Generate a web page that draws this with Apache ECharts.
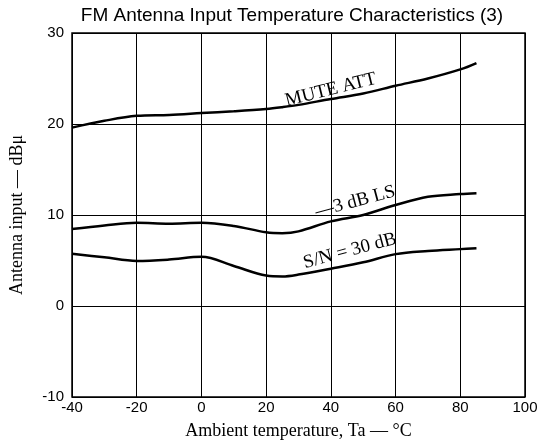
<!DOCTYPE html>
<html>
<head>
<meta charset="utf-8">
<script src="https://cdn.jsdelivr.net/npm/echarts@6/dist/echarts.min.js"></script>
<style>
  html, body { margin: 0; padding: 0; background: #fff; }
  #chart { width: 544px; height: 445px; }
</style>
</head>
<body>
<div id="chart"></div>
<script>
// ambient temperature (°C) sample points
const temps = [-40, -30, -20, -10, 0, 10, 20, 25, 30, 40, 50, 60, 70, 80, 85]

// antenna input, dBμ
const muteAtt = [19.6, 20.35, 20.9, 21.0, 21.2, 21.4, 21.65, 21.85, 22.1, 22.75, 23.35, 24.2, 25.0, 26.0, 26.7]
const ls3dB = [8.45, 8.85, 9.15, 9.05, 9.15, 8.8, 8.1, 8.0, 8.2, 9.3, 10.0, 11.1, 12.0, 12.3, 12.4]
const sn30dB = [5.75, 5.35, 4.95, 5.1, 5.4, 4.4, 3.35, 3.25, 3.45, 4.1, 4.8, 5.7, 6.05, 6.25, 6.35]

const xTicks = [-40, -20, 0, 20, 40, 60, 80, 100]
const yTicks = [-10, 0, 10, 20, 30]

// curve captions, anchored in data coordinates
const captions = [
  { text: 'MUTE ATT', x: 40.0, y: 23.75, angle: 14 },
  { text: '—3 dB LS', x: 47.5, y: 11.45, angle: 15 },
  { text: 'S/N = 30 dB', x: 45.9, y: 6.05, angle: 15 }
]

const serif = '"Liberation Serif", "DejaVu Serif", serif'
const sans = '"Liberation Sans", Arial, sans-serif'

function pairs(ys) {
  return temps.map((t, i) => [t, ys[i]])
}

function curve(name, ys) {
  return {
    name,
    type: 'line',
    smooth: 0.35,
    symbol: 'none',
    data: pairs(ys),
    lineStyle: { color: '#000', width: 2.5 }
  }
}

const chart = echarts.init(document.getElementById('chart'), null, { renderer: 'canvas' })

chart.setOption({
  animation: false,
  backgroundColor: '#fff',
  title: {
    text: 'FM Antenna Input Temperature Characteristics (3)',
    left: 287,
    textAlign: 'center',
    top: 1,
    textStyle: { fontFamily: sans, fontSize: 19, fontWeight: 'normal', color: '#000' }
  },
  grid: {
    left: 72, right: 19, top: 33, bottom: 48,
    show: true, borderColor: '#000', borderWidth: 1.5
  },
  xAxis: {
    type: 'value',
    min: xTicks[0],
    max: xTicks[xTicks.length - 1],
    interval: 20,
    name: 'Ambient temperature, Ta — °C',
    nameLocation: 'middle',
    nameGap: 25,
    nameTextStyle: { fontFamily: serif, fontSize: 18, color: '#000' },
    axisLine: { show: false },
    axisTick: { show: false },
    axisLabel: { margin: 3, fontFamily: sans, fontSize: 15, color: '#000' },
    splitLine: { show: true, lineStyle: { color: '#000', width: 1 } }
  },
  yAxis: {
    type: 'value',
    min: yTicks[0],
    max: yTicks[yTicks.length - 1],
    interval: 10,
    name: 'Antenna input — dBμ',
    nameLocation: 'middle',
    nameGap: 46,
    nameTextStyle: { fontFamily: serif, fontSize: 18, color: '#000' },
    axisLine: { show: false },
    axisTick: { show: false },
    axisLabel: { margin: 8, fontFamily: sans, fontSize: 15, color: '#000' },
    splitLine: { show: true, lineStyle: { color: '#000', width: 1 } }
  },
  series: [
    curve('MUTE ATT', muteAtt),
    curve('3 dB LS', ls3dB),
    curve('S/N = 30 dB', sn30dB)
  ]
})

// place the rotated captions through the chart's own scales
chart.setOption({
  graphic: captions.map(c => {
    const [px, py] = chart.convertToPixel({ gridIndex: 0 }, [c.x, c.y])
    return {
      type: 'text',
      x: px,
      y: py,
      rotation: c.angle * Math.PI / 180,
      style: {
        text: c.text,
        fontFamily: serif,
        fontSize: 19,
        fill: '#000',
        align: 'center',
        verticalAlign: 'middle'
      }
    }
  })
})
</script>
</body>
</html>
